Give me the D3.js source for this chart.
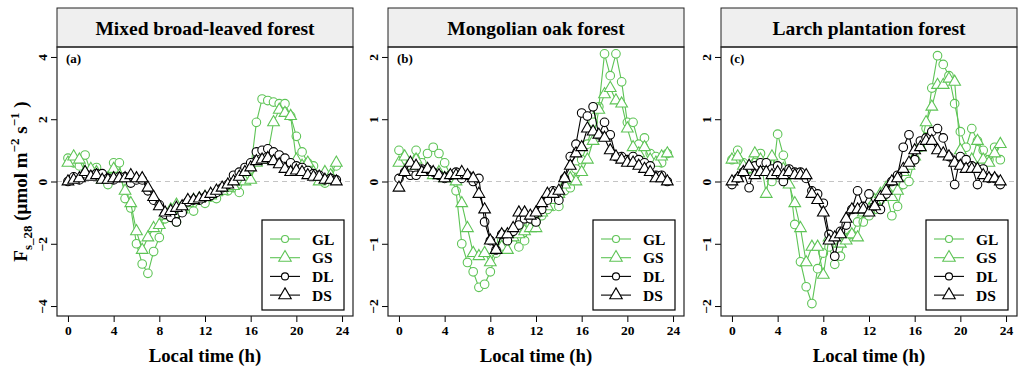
<!DOCTYPE html>
<html>
<head>
<meta charset="utf-8">
<script src="https://cdn.jsdelivr.net/npm/d3@7"></script>
<style>
  body { margin: 0; background: #fff; }
  svg text { font-family: "Liberation Serif", "DejaVu Serif", serif; font-weight: bold; }
</style>
</head>
<body>
<div id="chart"></div>
<script>
// half-hourly time steps, 0 .. 23.5 h
const hours = d3.range(0, 24, 0.5);
const xTicks = [0, 4, 8, 12, 16, 20, 24];
const seriesNames = ["GL", "GS", "DL", "DS"];
const panelTitles = ["Mixed broad-leaved forest", "Mongolian oak forest", "Larch plantation forest"];
const panelTags = ["(a)", "(b)", "(c)"];
const yLimits = [4, 2, 2];
const yTicks = [[-4, -2, 0, 2, 4], [-2, -1, 0, 1, 2], [-2, -1, 0, 1, 2]];

// (a) mixed broad-leaved forest
const mixedGL = [0.75,0.6,0.5,0.85,0.3,0.45,0.1,-0.1,0.6,0.6,-0.55,-0.85,-2.0,-2.65,-2.95,-2.25,-1.8,-1.2,-1.05,-1.3,-0.8,-0.8,-0.95,-0.6,
  -0.7,-0.5,-0.55,-0.3,-0.3,-0.2,-0.35,0.2,0.4,1.9,2.65,2.6,2.55,2.5,2.5,2.1,1.45,0.95,0.6,0.5,0.1,-0.05,0.1,0.5];
const mixedGS = [0.6,0.8,0.7,0.3,0.4,0.3,0.05,0.1,0.4,0.2,-0.3,-0.7,-1.6,-2.2,-1.8,-1.5,-1.4,-1.1,-0.9,-0.75,-0.9,-0.7,-0.6,-0.55,
  -0.5,-0.45,-0.35,-0.3,-0.2,-0.15,0.05,0.0,0.05,0.6,0.7,0.9,1.9,2.3,2.2,2.1,0.7,0.5,0.6,0.3,0.0,0.3,0.2,0.6];
const mixedDL = [0.0,0.15,0.05,0.25,0.2,0.25,0.25,0.1,0.05,0.15,0.15,-0.05,0.05,0.05,-0.3,-0.6,-0.75,-1.05,-1.15,-1.3,-1.0,-0.65,-0.6,-0.6,
  -0.5,-0.45,-0.35,-0.2,-0.1,0.2,0.3,0.45,0.6,0.95,1.0,1.05,0.95,0.85,0.75,0.6,0.5,0.45,0.35,0.25,0.2,0.05,0.1,0.05];
const mixedDS = [0.0,0.05,0.1,0.3,0.15,0.2,0.05,0.05,0.1,0.1,0.1,0.2,0.1,0.1,-0.2,-0.5,-0.8,-1.0,-0.95,-0.85,-0.8,-0.6,-0.6,-0.55,
  -0.5,-0.4,-0.3,-0.2,-0.1,0.0,0.15,0.3,0.45,0.65,0.7,0.75,0.65,0.55,0.4,0.3,0.35,0.3,0.2,0.15,0.15,0.05,0.05,0.0];

// (b) Mongolian oak forest
const oakGL = [0.5,0.35,0.3,0.5,0.3,0.45,0.55,0.45,0.3,0.1,-0.15,-1.0,-1.3,-1.45,-1.7,-1.65,-1.45,-1.15,-0.95,-0.85,-0.85,-1.05,-0.95,-0.7,
  -0.65,-0.55,-0.45,-0.4,-0.4,-0.15,-0.1,0.2,0.35,0.6,0.95,1.2,2.05,1.7,2.05,1.6,0.95,0.95,0.6,0.7,0.45,0.4,0.3,0.45];
const oakGS = [0.3,0.4,0.25,0.35,0.15,0.15,0.1,0.15,0.05,0.05,0.0,-0.35,-0.75,-1.15,-1.2,-1.15,-1.3,-1.1,-1.05,-1.1,-0.9,-0.85,-0.8,-0.75,
  -0.75,-0.5,-0.4,-0.3,-0.2,-0.05,0.05,0.0,0.15,0.35,0.65,1.15,1.4,1.5,1.3,1.25,0.85,0.55,0.45,0.55,0.35,0.3,0.4,0.45];
const oakDL = [0.05,0.15,0.1,0.1,0.2,0.2,0.15,0.1,0.05,0.1,0.15,0.05,0.1,0.0,0.05,-0.65,-0.95,-1.1,-0.85,-0.95,-0.8,-0.7,-0.6,-0.6,
  -0.65,-0.45,-0.3,-0.15,-0.3,0.05,0.4,0.6,1.1,1.05,1.2,0.75,0.95,0.75,0.4,0.4,0.35,0.4,0.35,0.3,0.25,0.1,0.1,0.0];
const oakDS = [-0.1,0.15,0.3,0.25,0.15,0.2,0.15,0.1,0.05,0.1,0.1,0.15,0.1,0.05,-0.2,-0.45,-0.95,-1.1,-0.85,-0.85,-0.75,-0.5,-0.5,-0.55,
  -0.5,-0.35,-0.2,-0.2,-0.15,0.05,0.25,0.45,0.55,0.85,0.8,0.75,0.7,0.5,0.4,0.35,0.3,0.3,0.25,0.2,0.15,0.05,0.05,0.0];

// (c) larch plantation forest
const larchGL = [0.35,0.5,0.3,0.2,0.3,0.45,0.3,0.0,0.76,0.42,0.1,-0.69,-1.29,-1.69,-1.96,-1.4,-1.15,-1.05,-1.33,-1.2,-0.9,-0.85,-0.65,-0.65,
  -0.55,-0.45,-0.3,-0.2,-0.55,-0.4,-0.05,0.0,0.35,0.55,0.85,1.5,2.02,1.88,1.7,1.25,0.8,0.55,0.85,0.65,0.5,0.35,0.55,0.35];
const larchGS = [0.35,0.4,0.25,0.2,0.45,0.35,-0.2,0.4,0.1,0.2,-0.05,-0.35,-0.75,-1.3,-1.05,-1.05,-1.5,-0.9,-0.95,-1.0,-0.95,-0.85,-0.9,-0.5,
  -0.45,-0.3,-0.2,-0.1,-0.25,-0.15,0.15,0.25,0.4,0.55,0.95,1.2,1.55,1.55,1.65,1.6,0.5,0.3,0.35,0.65,0.35,0.3,0.45,0.6];
const larchDL = [-0.05,0.05,0.15,-0.1,0.25,0.3,0.3,0.2,0.25,0.0,0.2,0.15,0.15,0.05,-0.15,-0.2,-0.35,-0.85,-1.2,-0.8,-0.7,-0.45,-0.15,-0.4,
  -0.2,-0.4,-0.45,-0.2,0.0,0.1,0.55,0.75,0.35,0.65,0.7,0.8,0.85,0.7,0.4,-0.05,0.4,0.35,0.25,-0.05,0.2,0.05,0.05,-0.05];
const larchDS = [0.0,0.05,0.15,0.25,0.1,0.15,0.15,0.1,0.15,0.1,0.15,0.1,0.1,0.1,-0.2,-0.3,-0.5,-0.95,-0.9,-0.85,-0.6,-0.45,-0.45,-0.45,
  -0.5,-0.4,-0.25,-0.15,0.0,0.05,0.2,0.3,0.5,0.55,0.65,0.65,0.5,0.45,0.4,0.3,0.25,0.2,0.2,0.2,0.1,0.05,0.05,0.0];

const panelSeries = [
  [mixedGL, mixedGS, mixedDL, mixedDS],
  [oakGL, oakGS, oakDL, oakDS],
  [larchGL, larchGS, larchDL, larchDS]
];

const green = "#5ec456";
const seriesColor = [green, green, "#000", "#000"];
const seriesShape = ["circle", "triangle", "circle", "triangle"];

const width = 1019, height = 370;
const panelLeft = [57, 388, 721];
const panelW = 296;
const stripTop = 8, plotTop = 47, plotBottom = 316;

const svg = d3.select("#chart").append("svg")
  .attr("width", width)
  .attr("height", height);

function drawMarker(g, shape, color, x, y, r) {
  if (shape === "circle") {
    g.append("circle").attr("cx", x).attr("cy", y).attr("r", r)
      .attr("fill", "#fff").attr("stroke", color).attr("stroke-width", 1.1);
  } else {
    g.append("path")
      .attr("d", d3.symbol(d3.symbolTriangle, r * r * 3.2)())
      .attr("transform", `translate(${x},${y})`)
      .attr("fill", "#fff").attr("stroke", color).attr("stroke-width", 1.1);
  }
}

panelTitles.forEach((title, p) => {
  const left = panelLeft[p];
  const lim = yLimits[p];
  const pad = 24 * 0.04;

  const xScale = d3.scaleLinear().domain([-pad, 24 + pad]).range([left, left + panelW]);
  const yScale = d3.scaleLinear().domain([-lim * 1.08, lim * 1.08]).range([plotBottom, plotTop]);

  const g = svg.append("g").attr("class", "panel");

  // strip with title
  g.append("rect")
    .attr("x", left).attr("y", stripTop)
    .attr("width", panelW).attr("height", plotTop - stripTop)
    .attr("fill", "#efefef").attr("stroke", "#222").attr("stroke-width", 1);
  g.append("text")
    .attr("x", left + panelW / 2).attr("y", stripTop + 27)
    .attr("text-anchor", "middle")
    .attr("font-size", 19.5)
    .text(title);

  // zero reference
  g.append("line")
    .attr("x1", left).attr("x2", left + panelW)
    .attr("y1", yScale(0)).attr("y2", yScale(0))
    .attr("stroke", "#c4c4c4").attr("stroke-width", 1.2)
    .attr("stroke-dasharray", "5,4");

  // axes
  const xAxis = g.append("g")
    .attr("class", "axis axis-x")
    .attr("transform", `translate(0, ${plotBottom})`)
    .call(d3.axisBottom(xScale).tickValues(xTicks).tickSize(6).tickPadding(3).tickSizeOuter(0));
  xAxis.select(".domain").remove();
  xAxis.selectAll("text").attr("font-size", 13.5).attr("font-family", "Liberation Serif").attr("font-weight", "bold").attr("fill", "#000");

  const yAxis = g.append("g")
    .attr("class", "axis axis-y")
    .attr("transform", `translate(${left}, 0)`)
    .call(d3.axisLeft(yScale).tickValues(yTicks[p]).tickSize(6).tickFormat(d => d < 0 ? "\u2212" + Math.abs(d) : d));
  yAxis.select(".domain").remove();
  yAxis.selectAll("text")
    .attr("font-size", 13.5).attr("font-family", "Liberation Serif").attr("font-weight", "bold").attr("fill", "#000")
    .attr("text-anchor", "middle")
    .attr("x", null).attr("dy", null)
    .attr("transform", "translate(-10,0) rotate(-90)");

  // series
  const line = d3.line()
    .x((d, i) => xScale(hours[i]))
    .y(d => yScale(d));

  panelSeries[p].forEach((vals, s) => {
    g.append("path")
      .datum(vals)
      .attr("class", "line")
      .attr("d", line)
      .attr("fill", "none")
      .attr("stroke", seriesColor[s])
      .attr("stroke-width", 1.1);
    const mg = g.append("g").attr("class", "markers");
    vals.forEach((v, i) => drawMarker(mg, seriesShape[s], seriesColor[s], xScale(hours[i]), yScale(v), 4.3));
  });

  // frame
  g.append("rect")
    .attr("x", left).attr("y", plotTop)
    .attr("width", panelW).attr("height", plotBottom - plotTop)
    .attr("fill", "none").attr("stroke", "#222").attr("stroke-width", 1.2);

  // tag
  g.append("text")
    .attr("x", left + 9).attr("y", plotTop + 16)
    .attr("font-size", 13)
    .text(panelTags[p]);

  // legend
  const lx = left + panelW - 91, ly = plotBottom - 96;
  const leg = g.append("g").attr("class", "legend");
  leg.append("rect")
    .attr("x", lx).attr("y", ly).attr("width", 82).attr("height", 90)
    .attr("fill", "#fff").attr("stroke", "#000").attr("stroke-width", 1.2);
  seriesNames.forEach((name, s) => {
    const yy = ly + 19 + s * 18.7;
    leg.append("line")
      .attr("x1", lx + 8).attr("x2", lx + 38)
      .attr("y1", yy).attr("y2", yy)
      .attr("stroke", seriesColor[s]).attr("stroke-width", 1.1);
    drawMarker(leg, seriesShape[s], seriesColor[s], lx + 23, yy, s % 2 ? 4.6 : 3.5);
    leg.append("text")
      .attr("x", lx + 50).attr("y", yy + 5.5)
      .attr("font-size", 15.5)
      .text(name);
  });

  // x title
  g.append("text")
    .attr("x", left + panelW / 2).attr("y", 362)
    .attr("text-anchor", "middle")
    .attr("font-size", 18.8)
    .text("Local time (h)");
});

// y title (only on first panel)
const yTitle = svg.append("text")
  .attr("transform", `translate(27, ${(plotTop + plotBottom) / 2}) rotate(-90)`)
  .attr("text-anchor", "middle")
  .attr("font-size", 19);
yTitle.append("tspan").text("F");
yTitle.append("tspan").attr("font-size", 13).attr("dy", 5).text("s_28");
yTitle.append("tspan").attr("dy", -5).text(" (\u03bcmol m");
yTitle.append("tspan").attr("font-size", 13).attr("dy", -8).text("\u22122");
yTitle.append("tspan").attr("dy", 8).text(" s");
yTitle.append("tspan").attr("font-size", 13).attr("dy", -8).text("\u22121");
yTitle.append("tspan").attr("dy", 8).text(" )");
</script>
</body>
</html>
